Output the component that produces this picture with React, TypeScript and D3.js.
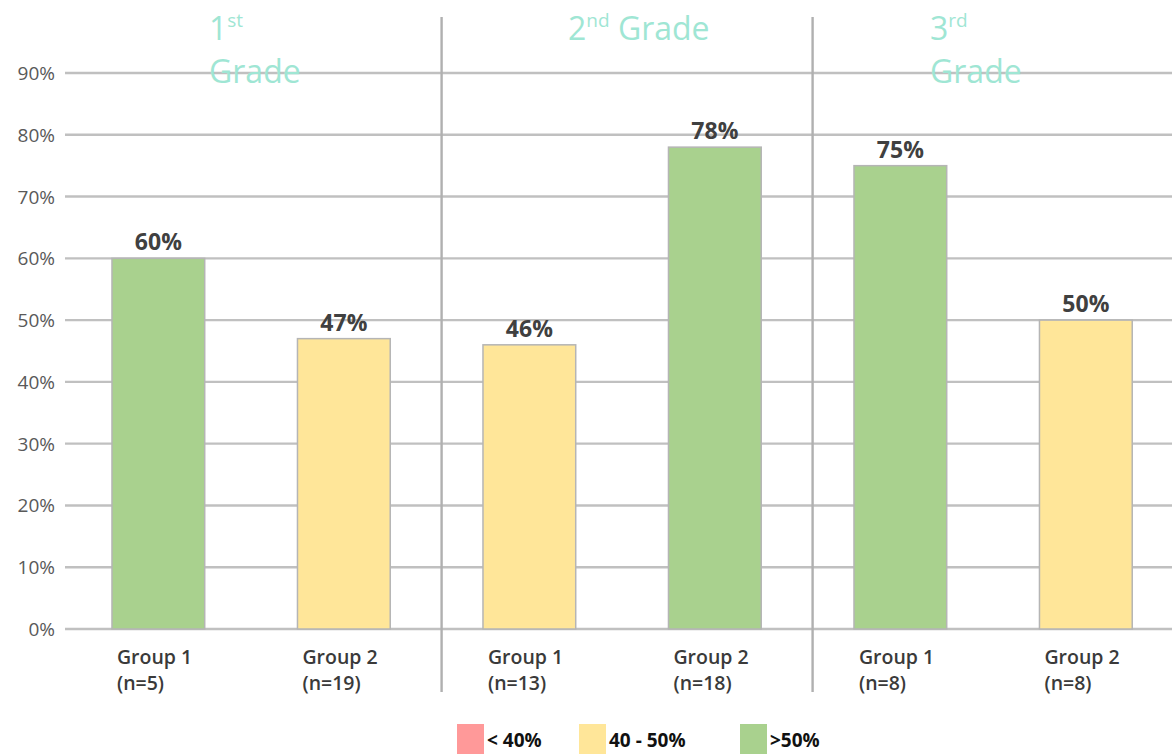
import React from "react";
import * as d3 from "d3";

// Share of students in each group, by grade
const groupLabels = ["Group 1", "Group 2", "Group 1", "Group 2", "Group 1", "Group 2"];
const groupSizes = ["(n=5)", "(n=19)", "(n=13)", "(n=18)", "(n=8)", "(n=8)"];
const values = [0.6, 0.47, 0.46, 0.78, 0.75, 0.5];
const yTicks = [0, 0.1, 0.2, 0.3, 0.4, 0.5, 0.6, 0.7, 0.8, 0.9];

// Grade headings: number, ordinal suffix, word
const gradeNumbers = ["1", "2", "3"];
const gradeSuffixes = ["st", "nd", "rd"];
const gradeWords = ["Grade", "Grade", "Grade"];

// Legend bands
const legendLabels = ["< 40%", "40 - 50%", ">50%"];
const bandColors = ["#ff9999", "#ffe699", "#a9d18e"];

const W = 1172;
const H = 754;
const FONT = "'Open Sans', 'DejaVu Sans', sans-serif";

const colorFor = (v: number) => (v < 0.4 ? bandColors[0] : v <= 0.5 ? bandColors[1] : bandColors[2]);

export default function App() {
  const y = d3.scaleLinear().domain([0, 0.9]).range([629, 73]);
  const x = d3
    .scaleBand<number>()
    .domain(values.map((_, i) => i))
    .range([65.6, 1178.6])
    .paddingInner(0.5)
    .paddingOuter(0.25);
  const bw = x.bandwidth();
  const step = x.step();

  // vertical separators between grades
  const separators = [2, 4].map((i) => (x(i) as number) - (step - bw) / 2 + 5);

  const pct = d3.format(".0%");

  // heading layout per grade
  const headings: { x: number; twoLines: boolean }[] = [
    { x: 209, twoLines: true },
    { x: 568, twoLines: false },
    { x: 930, twoLines: true },
  ];

  const legendX = [457, 579, 740];

  return (
    <div style={{ position: "absolute", left: 0, top: 0 }}>
      <svg width={W} height={H} style={{ display: "block", background: "#fff" }}>
        {/* horizontal gridlines */}
        {yTicks.map((t) => (
          <line key={"g" + t} x1={65} x2={W} y1={y(t)} y2={y(t)} stroke="#c0c0c0" strokeWidth={2.4} />
        ))}
        {/* y tick labels */}
        {yTicks.map((t) => (
          <text
            key={"t" + t}
            x={55}
            y={y(t) + 7}
            textAnchor="end"
            fontFamily={FONT}
            fontSize={19}
            fill="#595959"
          >
            {pct(t)}
          </text>
        ))}
        {/* grade separators */}
        {separators.map((sx, i) => (
          <line key={"s" + i} x1={sx} x2={sx} y1={17} y2={692} stroke="#b0b0b0" strokeWidth={2.4} />
        ))}
        {/* bars */}
        {values.map((v, i) => (
          <rect
            key={"b" + i}
            x={x(i)}
            y={y(v)}
            width={bw}
            height={y(0) - y(v)}
            fill={colorFor(v)}
            stroke="#b5b5b5"
            strokeWidth={1.5}
          />
        ))}
        {/* value labels */}
        {values.map((v, i) => (
          <text
            key={"v" + i}
            x={(x(i) as number) + bw / 2}
            y={y(v) - 8}
            textAnchor="middle"
            fontFamily={FONT}
            fontSize={23}
            fontWeight={700}
            fill="#404040"
          >
            {pct(v)}
          </text>
        ))}
        {/* category labels */}
        {groupLabels.map((g, i) => (
          <g key={"c" + i} fontFamily={FONT} fontSize={19.5} fontWeight={600} fill="#3a3a3a">
            <text x={(x(i) as number) + 5} y={664}>
              {g}
            </text>
            <text x={(x(i) as number) + 5} y={690}>
              {groupSizes[i]}
            </text>
          </g>
        ))}
        {/* grade headings */}
        {headings.map((h, i) => (
          <g key={"h" + i} fontFamily={FONT} fill="#9fe6d4">
            <text x={h.x} y={40} fontSize={32}>
              {gradeNumbers[i]}
              <tspan fontSize={19} dy={-13}>
                {gradeSuffixes[i]}
              </tspan>
              {!h.twoLines && (
                <tspan fontSize={32} dy={13}>
                  {" " + gradeWords[i]}
                </tspan>
              )}
            </text>
            {h.twoLines && (
              <text x={h.x} y={83} fontSize={32}>
                {gradeWords[i]}
              </text>
            )}
          </g>
        ))}
        {/* legend */}
        {legendLabels.map((l, i) => (
          <g key={"l" + i}>
            <rect x={legendX[i]} y={724} width={27} height={30} fill={bandColors[i]} />
            <text
              x={legendX[i] + 30}
              y={747}
              fontFamily={FONT}
              fontSize={19}
              fontWeight={700}
              fill="#111"
            >
              {l}
            </text>
          </g>
        ))}
      </svg>
    </div>
  );
}
